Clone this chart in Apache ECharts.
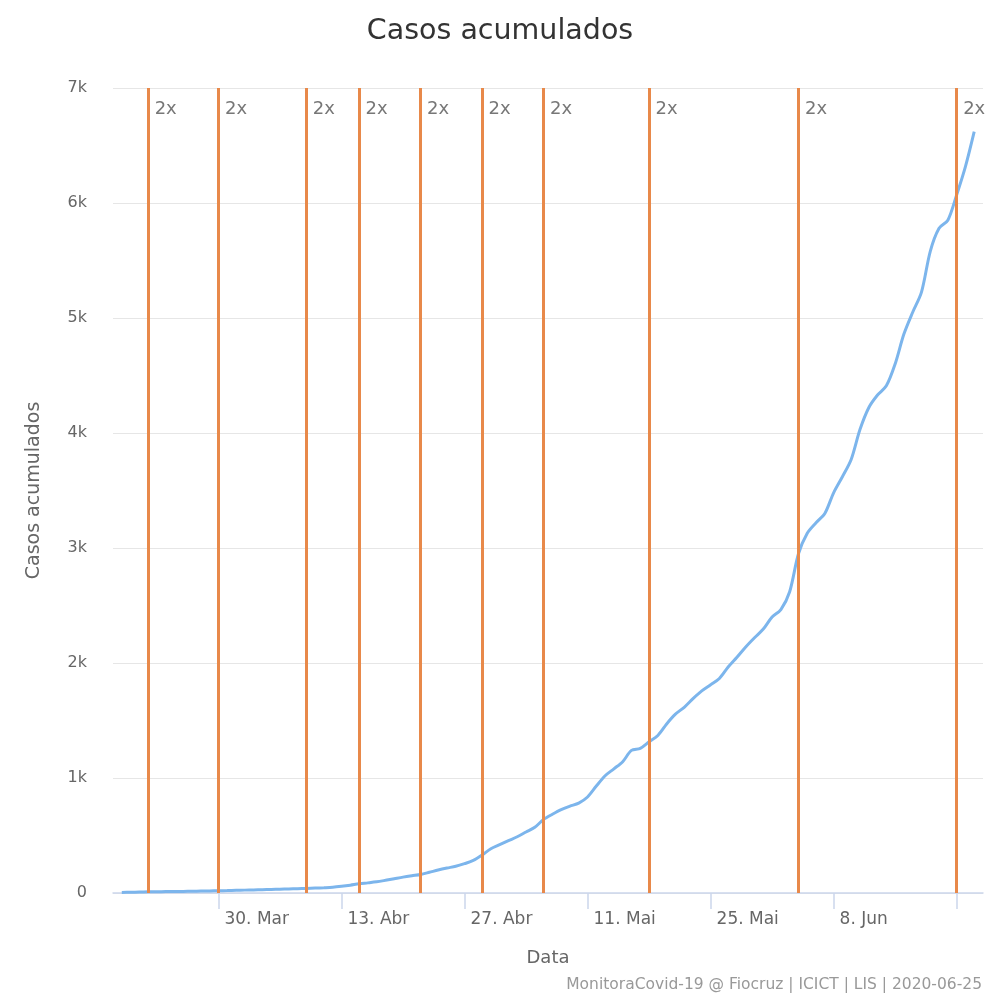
<!DOCTYPE html>
<html>
<head>
    <meta charset="utf-8">
    <title>Casos acumulados</title>
    <script src="https://cdn.jsdelivr.net/npm/echarts@6/dist/echarts.min.js"></script>
    <style>
        html, body { margin: 0; padding: 0; background: #fff; }
        #main { width: 1000px; height: 1000px; }
    </style>
</head>
<body>
<div id="main"></div>
<script type="text/javascript">
    // casos acumulados por dia, a partir de 19/03/2020
    var startDate = '2020-03-19';
    var cases = [
        5, 6, 8, 10, 11, 12, 13, 14, 15, 17, 18,
        20, 21, 23, 25, 27, 29, 31, 33, 35, 37, 40, 43, 46, 50,
        58, 68, 80, 88, 97, 110, 124, 138, 150, 161, 180, 200, 217, 232,
        255, 283, 330, 385, 420, 455, 489, 530, 571, 640, 685, 725, 755, 782,
        835, 930, 1020, 1080, 1142, 1240, 1258, 1315, 1370, 1470, 1555, 1615, 1690, 1757,
        1810, 1865, 1965, 2050, 2140, 2220, 2295, 2400, 2465, 2620, 2950, 3128, 3220, 3300,
        3480, 3620, 3770, 4030, 4220, 4330, 4410, 4600, 4860, 5050, 5225, 5580, 5780, 5850,
        6070, 6316, 6620
    ];
    // datas em que os casos dobraram
    var doubleDates = ['2020-03-22', '2020-03-30', '2020-04-09', '2020-04-15', '2020-04-22',
        '2020-04-29', '2020-05-06', '2020-05-18', '2020-06-04', '2020-06-22'];
    var tickDates = ['2020-03-30', '2020-04-13', '2020-04-27', '2020-05-11', '2020-05-25', '2020-06-08', '2020-06-22'];
    var tickLabels = ['30. Mar', '13. Abr', '27. Abr', '11. Mai', '25. Mai', '8. Jun', ''];
    var xMin = '2020-03-18';
    var xMax = '2020-06-25';

    // dias contados a partir de 18/03 (eixo numerico)
    var DAY = 24 * 3600 * 1000;
    function toDay(s) {
        var p = s.split('-');
        return Math.round((Date.UTC(+p[0], +p[1] - 1, +p[2]) - Date.UTC(2020, 2, 18)) / DAY);
    }

    var d0 = toDay(startDate);
    var lineData = [];
    for (var i = 0; i < cases.length; i++) {
        lineData.push([d0 + i, cases[i]]);
    }
    var tickDays = tickDates.map(toDay);
    var labelMap = {};
    for (var j = 0; j < tickDays.length; j++) {
        labelMap[tickDays[j]] = tickLabels[j];
    }
    var doubleDays = doubleDates.map(toDay);

    var myChart = echarts.init(document.getElementById('main'));
    var font = 'DejaVu Sans, Verdana, sans-serif';

    var option = {
        animation: false,
        backgroundColor: '#ffffff',
        textStyle: { fontFamily: font },
        title: [{
            text: 'Casos acumulados',
            left: 'center',
            top: 12,
            textStyle: { fontSize: 28.5, fontWeight: 'normal', color: '#333333', fontFamily: font }
        }, {
            text: 'MonitoraCovid-19 @ Fiocruz | ICICT | LIS | 2020-06-25',
            right: 13,
            bottom: 2,
            textStyle: { fontSize: 15.5, fontWeight: 'normal', color: '#999999', fontFamily: font }
        }],
        grid: { left: 113, right: 17, top: 88, bottom: 107 },
        xAxis: {
            type: 'value',
            min: toDay(xMin),
            max: toDay(xMax),
            name: 'Data',
            nameLocation: 'middle',
            nameGap: 56,
            nameTextStyle: { fontSize: 18, color: '#666666' },
            axisLine: { lineStyle: { color: '#ccd6eb', width: 1.5 } },
            axisTick: { show: true, length: 16, customValues: tickDays, lineStyle: { color: '#ccd6eb', width: 1.5 } },
            axisLabel: {
                customValues: tickDays,
                align: 'left',
                padding: [0, 0, 0, 6],
                margin: 18,
                fontSize: 17,
                color: '#666666',
                formatter: function (v) { return labelMap[v] || ''; }
            },
            splitLine: { show: false }
        },
        yAxis: {
            type: 'value',
            min: 0,
            max: 7000,
            interval: 1000,
            name: 'Casos acumulados',
            nameLocation: 'middle',
            nameGap: 69,
            nameTextStyle: { fontSize: 19, color: '#666666' },
            axisLine: { show: false },
            axisTick: { show: false },
            axisLabel: {
                margin: 26,
                fontSize: 16,
                color: '#666666',
                formatter: function (v) { return v === 0 ? '0' : (v / 1000) + 'k'; }
            },
            splitLine: { lineStyle: { color: '#e6e6e6', width: 1 } }
        },
        series: [{
            name: 'Casos acumulados',
            type: 'line',
            data: lineData,
            smooth: 0.3,
            showSymbol: false,
            lineStyle: { color: '#7cb5ec', width: 3 },
            itemStyle: { color: '#7cb5ec' },
            z: 2
        }, {
            name: '2x',
            type: 'scatter',
            data: doubleDays.map(function (d) { return [d, 7000]; }),
            symbolSize: 1,
            itemStyle: { color: 'rgba(0,0,0,0)' },
            clip: false,
            z: 5,
            label: {
                show: true,
                formatter: '2x',
                position: 'right',
                distance: 6,
                offset: [0, 21],
                fontSize: 18,
                color: '#555555',
                fontFamily: font
            },
            markLine: {
                silent: true,
                symbol: 'none',
                label: { show: false },
                lineStyle: { color: '#e8894a', width: 3, type: 'solid' },
                data: doubleDays.map(function (d) { return { xAxis: d }; })
            }
        }]
    };
    myChart.setOption(option);
</script>
</body>
</html>
